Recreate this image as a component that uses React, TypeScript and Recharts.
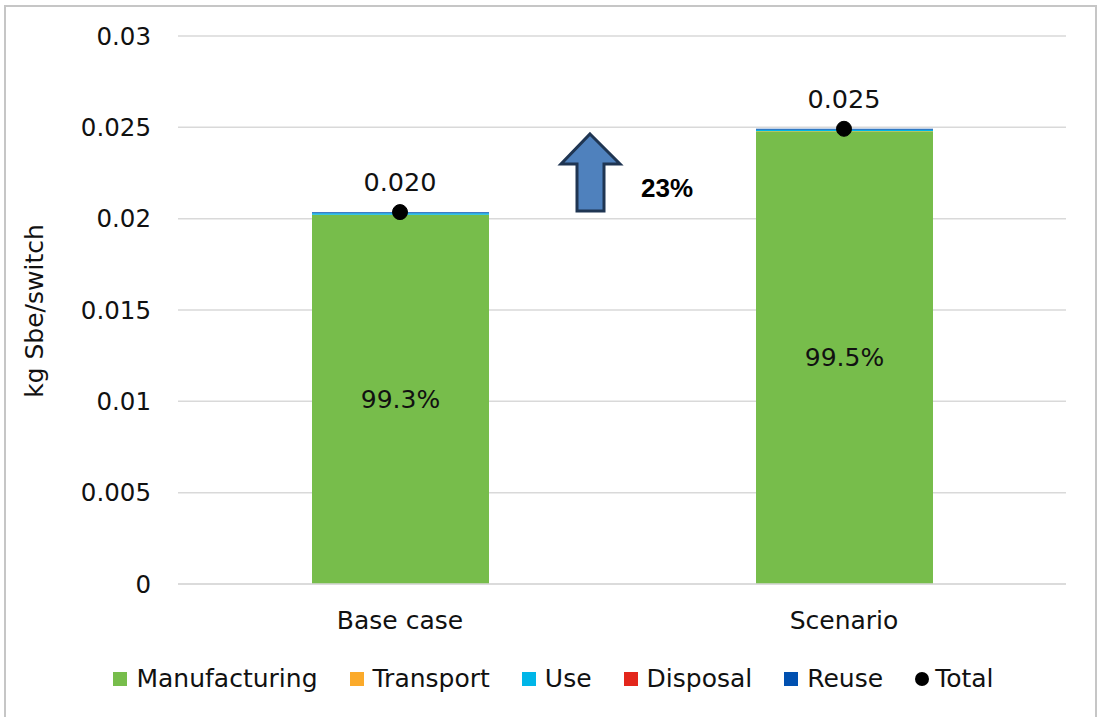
import React from "react";
import { Bar, CartesianGrid, ComposedChart, LabelList, Legend, Line, XAxis, YAxis } from "recharts";

const categories = ["Base case", "Scenario"];
const manufacturing = [0.02021, 0.02479];
const transport = [0.000004, 0.000004];
const use = [0.00008, 0.00007];
const disposal = [0.000002, 0.000002];
const reuse = [0.00006, 0.00005];
const total = [0.02036, 0.02492];
const shares = ["99.3%", "99.5%"];
const yTicks = [0, 0.005, 0.01, 0.015, 0.02, 0.025, 0.03];

const series = [
  { key: "manufacturing", name: "Manufacturing", color: "#77bd4b" },
  { key: "transport", name: "Transport", color: "#fbaa2a" },
  { key: "use", name: "Use", color: "#00b6e8" },
  { key: "disposal", name: "Disposal", color: "#e3261b" },
  { key: "reuse", name: "Reuse", color: "#0050b0" },
];

const data = categories.map((c, i) => ({
  name: c,
  manufacturing: manufacturing[i],
  transport: transport[i],
  use: use[i],
  disposal: disposal[i],
  reuse: reuse[i],
  total: total[i],
  share: shares[i],
}));

const font = "'DejaVu Sans', sans-serif";

function LegendBox() {
  return (
    <div style={{ display: "flex", justifyContent: "center", gap: 32, fontFamily: font, fontSize: 25, color: "#111" }}>
      {series.map((s) => (
        <div key={s.key} style={{ display: "flex", alignItems: "center", gap: 9 }}>
          <span style={{ width: 14, height: 14, background: s.color, display: "inline-block" }} />
          <span>{s.name}</span>
        </div>
      ))}
      <div style={{ display: "flex", alignItems: "center", gap: 6 }}>
        <span style={{ width: 14, height: 14, borderRadius: 7, background: "#000", display: "inline-block" }} />
        <span>Total</span>
      </div>
    </div>
  );
}

export default function App() {
  return (
    <div style={{ position: "absolute", left: 0, top: 0, width: 1099, height: 717, background: "#fff", overflow: "hidden" }}>
      <div style={{ position: "absolute", left: 4, top: 5, width: 1089, height: 720, border: "2px solid #c6c6c6", borderBottom: "none" }} />
      <ComposedChart width={1099} height={717} data={data} margin={{ top: 36, right: 33, bottom: 83, left: 0 }} barSize={177}>
        <CartesianGrid vertical={false} stroke="#d9d9d9" strokeWidth={1.5} />
        <XAxis dataKey="name" height={50} tickLine={false} axisLine={{ stroke: "#d9d9d9", strokeWidth: 1.5 }}
          tickMargin={21} tick={{ fontFamily: font, fontSize: 25, fill: "#111" }} />
        <YAxis width={178} domain={[0, 0.03]} ticks={yTicks} tickLine={false} axisLine={false} tickMargin={21}
          tickFormatter={(v: number) => String(v)} tick={{ fontFamily: font, fontSize: 24.5, fill: "#111" }}
          label={{
            content: () => (
              <text x={43} y={311} transform="rotate(-90 43 311)" textAnchor="middle" fontFamily={font} fontSize={25} fill="#111">
                kg Sbe/switch
              </text>
            ),
          }} />
        {series.map((s) => (
          <Bar key={s.key} dataKey={s.key} name={s.name} stackId="a" fill={s.color} isAnimationActive={false}>
            {s.key === "manufacturing" && (
              <LabelList dataKey="share" position="center" style={{ fontFamily: font, fontSize: 25, fill: "#111" }} />
            )}
          </Bar>
        ))}
        <Line dataKey="total" name="Total" stroke="none" legendType="circle" isAnimationActive={false}
          dot={{ r: 7.5, fill: "#000", stroke: "#000" }} activeDot={false}>
          <LabelList dataKey="total" position="top" offset={21} formatter={(v: number) => v.toFixed(3)}
            style={{ fontFamily: font, fontSize: 25.5, fill: "#111" }} />
        </Line>
        <Legend layout="horizontal" verticalAlign="middle" align="center" content={() => <LegendBox />}
          wrapperStyle={{ position: "absolute", top: 664, left: 4, width: 1099 }} />
      </ComposedChart>
      <svg style={{ position: "absolute", left: 0, top: 0, pointerEvents: "none" }} width={1099} height={717}>
        <path d="M590,134 L620,164 L604,164 L604,211 L577,211 L577,164 L561,164 Z" fill="#4f81bd" stroke="#1f3552" strokeWidth={3} strokeLinejoin="miter" />
        <text x={641} y={197} fontFamily="'Liberation Sans', Arial, sans-serif" fontWeight="bold" fontSize={26} fill="#000">23%</text>
      </svg>
    </div>
  );
}
